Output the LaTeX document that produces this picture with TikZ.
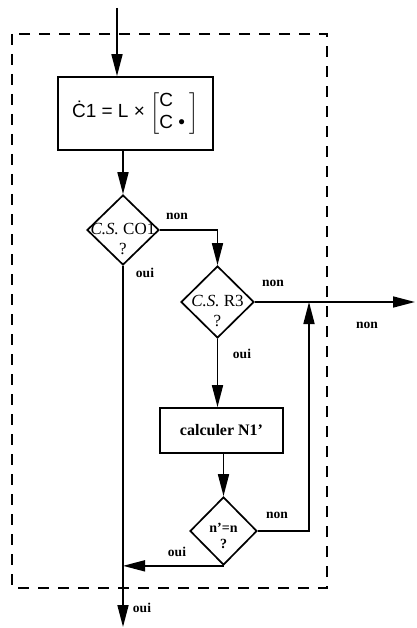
\documentclass[tikz,border=0pt]{standalone}
\usepackage{amsmath}
\usepackage{fontspec}
\setmainfont{Liberation Serif}
\newfontfamily\boxfont{Liberation Sans}
\usetikzlibrary{shapes.geometric,arrows.meta}
\begin{document}
\begin{tikzpicture}[x=1pt,y=-1pt,line width=1.7pt,
  flow/.style={-{Triangle[length=22pt,width=11pt]}},
  box/.style={draw,rectangle,inner sep=0pt},
  dia/.style={draw,diamond,inner sep=0pt},
  lbl/.style={font=\fontsize{13.5}{14}\selectfont\bfseries,inner sep=1pt},
  dtext/.style={font=\fontsize{17}{17}\selectfont,inner sep=0pt,align=center},
  frame/.style={dashed,dash pattern=on 11pt off 9pt,line width=1.9pt}]
\useasboundingbox (0,0) rectangle (416,628);
\draw[frame] (12,34) rectangle (327,588);
% nodes
\node[box,minimum width=155pt,minimum height=73pt] (b1) at (135.5,113.5) {};
\node[font=\fontsize{19}{22}\selectfont\boxfont,inner sep=0pt] (t1) at (b1) {Ċ1 = L × $\left[\begin{array}{@{}l@{\;}}\text{C}\\ \text{C •}\end{array}\right]$};
\node[dia,minimum width=72pt,minimum height=70pt] (d1) at (123,230) {};
\node[dtext] (t2) at (123,239) {\textit{C.S.} CO1\\[3pt]?};
\node[dia,minimum width=73pt,minimum height=72pt] (d2) at (217.5,302) {};
\node[dtext] (t3) at (217.5,311) {\textit{C.S.} R3\\[3pt]?};
\node[box,minimum width=123pt,minimum height=45pt] (b2) at (221.5,430.5) {};
\node[font=\fontsize{16}{18}\selectfont\bfseries,inner sep=0pt] (t4) at (b2) {calculer N1'};
\node[dia,minimum width=67pt,minimum height=68pt] (d3) at (223.5,531) {};
\node[font=\fontsize{14}{15}\selectfont\bfseries,inner sep=0pt,align=center] (t5) at (223.5,536) {n'=n\\[1pt]?};
\coordinate (in) at (117,8);
\coordinate (out) at (415,302);
\coordinate (j) at (309,302);
\coordinate (fin) at (123,627);
% connectors
\draw[flow] (in) -- (in |- b1.north);
\draw[flow] (d1.north |- b1.south) -- (d1.north);
\draw[flow] (d1.east) -| (d2.north);
\draw[flow] (d2.east) -- (out);
\draw[flow] (d2.south) -- (d2.south |- b2.north);
\draw[flow] (d3.north |- b2.south) -- (d3.north);
\draw[flow] (d3.east) -| (j);
\draw[flow] (d3.south) -- (d1.south |- d3.south);
\draw[flow] (d1.south) -- (fin);
% labels
\node[lbl] (l1) at (177,216) {non};
\node[lbl] (l2) at (145,273) {oui};
\node[lbl] (l3) at (273,283) {non};
\node[lbl] (l4) at (367,325) {non};
\node[lbl] (l5) at (242,354) {oui};
\node[lbl] (l6) at (277,515) {non};
\node[lbl] (l7) at (177,552) {oui};
\node[lbl] (l8) at (142,608) {oui};
\end{tikzpicture}
\end{document}
